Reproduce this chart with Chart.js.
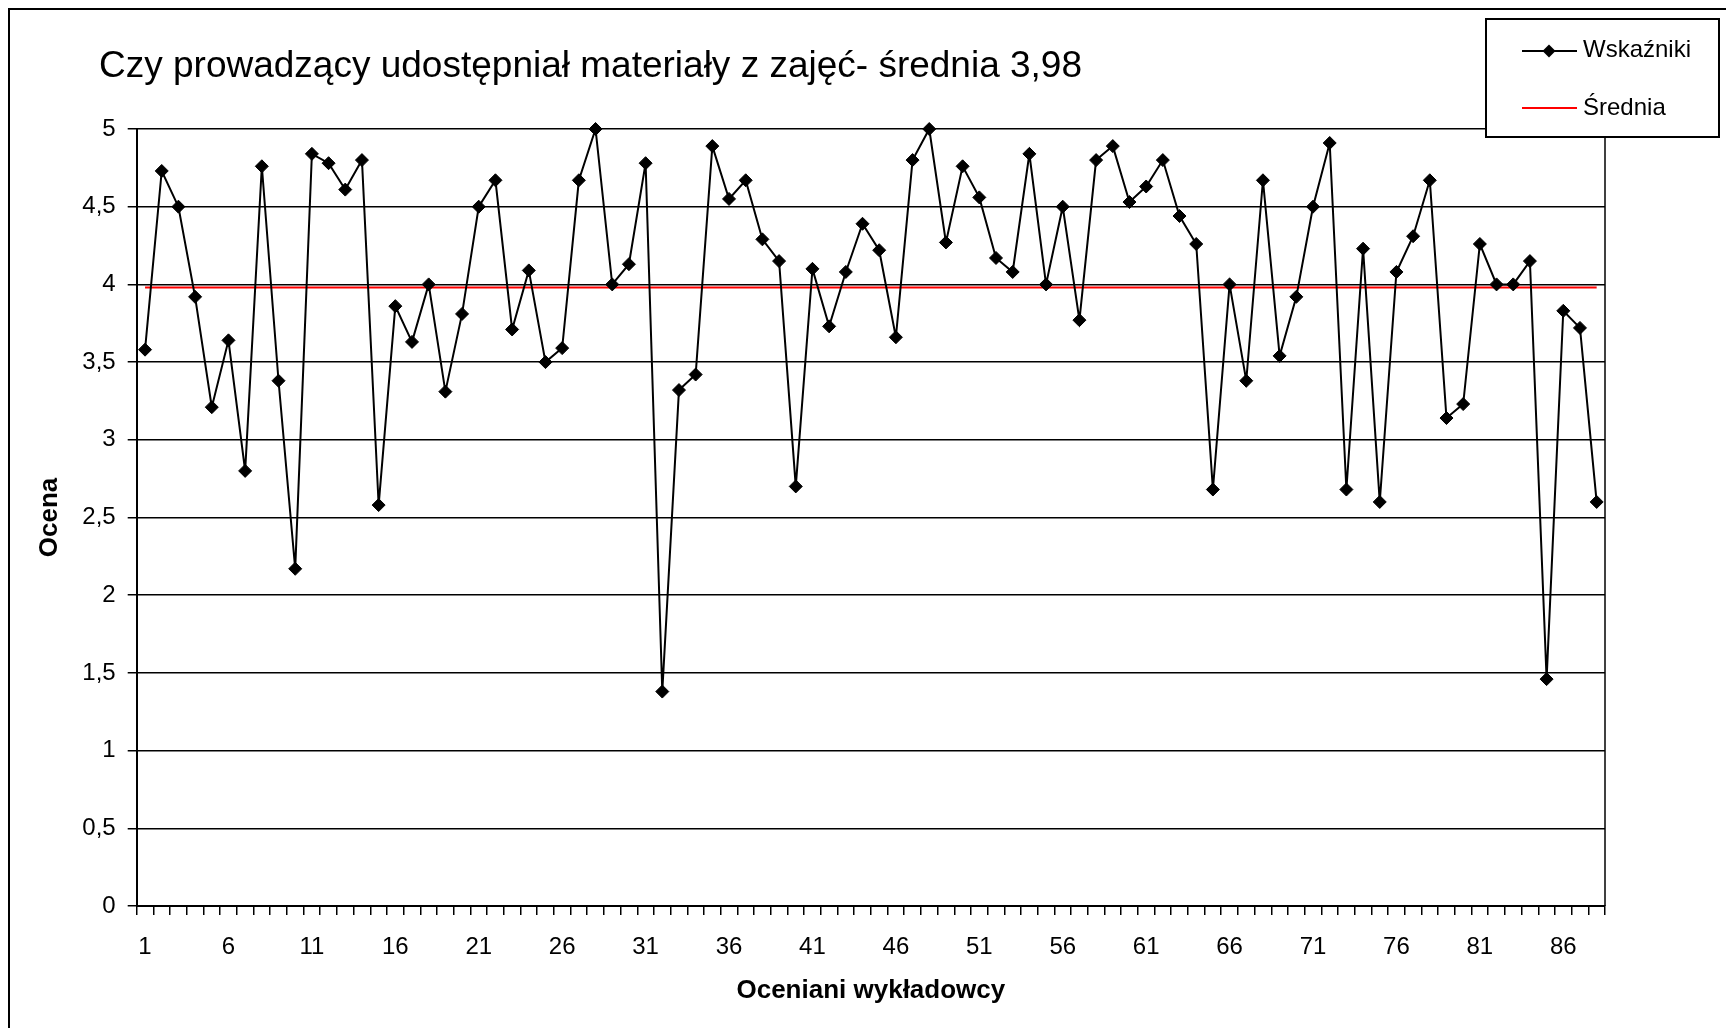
<!DOCTYPE html>
<html>
<head>
<meta charset="utf-8">
<script src="https://cdn.jsdelivr.net/npm/chart.js@4"></script>
<style>
  html, body { margin: 0; padding: 0; background: #ffffff; }
  #wrap { position: relative; width: 1726px; height: 1028px; }
</style>
</head>
<body>
<div id="wrap"><canvas id="c"></canvas></div>
<script>
// ---- data ----
const chartTitle = 'Czy prowadzący udostępniał materiały z zajęć- średnia 3,98';
const seriesName = 'Wskaźniki';
const meanName = 'Średnia';
const xTitle = 'Oceniani wykładowcy';
const yTitle = 'Ocena';
const categories = Array.from({length: 88}, (_, i) => String(i + 1));
const values = [
  3.58, 4.73, 4.50, 3.92, 3.21, 3.64, 2.80, 4.76, 3.38, 2.17,
  4.84, 4.78, 4.61, 4.80, 2.58, 3.86, 3.63, 4.00, 3.31, 3.81,
  4.50, 4.67, 3.71, 4.09, 3.50, 3.59, 4.67, 5.00, 4.00, 4.13,
  4.78, 1.38, 3.32, 3.42, 4.89, 4.55, 4.67, 4.29, 4.15, 2.70,
  4.10, 3.73, 4.08, 4.39, 4.22, 3.66, 4.80, 5.00, 4.27, 4.76,
  4.56, 4.17, 4.08, 4.84, 4.00, 4.50, 3.77, 4.80, 4.89, 4.53,
  4.63, 4.80, 4.44, 4.26, 2.68, 4.00, 3.38, 4.67, 3.54, 3.92,
  4.50, 4.91, 2.68, 4.23, 2.60, 4.08, 4.31, 4.67, 3.14, 3.23,
  4.26, 4.00, 4.00, 4.15, 1.46, 3.83, 3.72, 2.60
];
const meanValue = 3.98;
const meanPoints = [
  {x: '1', y: meanValue},
  {x: '88', y: meanValue}
];
const yMin = 0, yMax = 5, yStep = 0.5;
const labelEvery = 5;

// ---- styling ----
const FONT = '"Liberation Sans", Arial, sans-serif';

const decorPlugin = {
  id: 'decor',
  beforeDraw(chart) {
    const ctx = chart.ctx;
    ctx.save();
    ctx.fillStyle = '#ffffff';
    ctx.fillRect(0, 0, chart.width, chart.height);
    ctx.restore();
  },
  afterDraw(chart) {
    const ctx = chart.ctx;
    const a = chart.chartArea;
    ctx.save();
    // outer frame (top & left visible)
    ctx.strokeStyle = '#000';
    ctx.lineWidth = 2;
    ctx.beginPath();
    ctx.moveTo(9, chart.height + 5);
    ctx.lineTo(9, 9);
    ctx.lineTo(chart.width + 5, 9);
    ctx.stroke();
    // plot right border
    ctx.lineWidth = 1.5;
    ctx.beginPath();
    ctx.moveTo(a.right, a.top);
    ctx.lineTo(a.right, a.bottom);
    ctx.stroke();
    // title
    ctx.fillStyle = '#000';
    ctx.font = '37px ' + FONT;
    ctx.textAlign = 'left';
    ctx.textBaseline = 'alphabetic';
    ctx.fillText(chartTitle, 99, 77);
    // legend box
    const lx = 1486, ly = 19, lw = 233, lh = 118;
    ctx.fillStyle = '#fff';
    ctx.fillRect(lx, ly, lw, lh);
    ctx.strokeStyle = '#000';
    ctx.lineWidth = 2;
    ctx.strokeRect(lx, ly, lw, lh);
    const ds0 = chart.data.datasets[0];
    const ds1 = chart.data.datasets[1];
    // entry 1
    ctx.strokeStyle = ds0.borderColor;
    ctx.lineWidth = 2;
    ctx.beginPath();
    ctx.moveTo(1522, 51);
    ctx.lineTo(1577, 51);
    ctx.stroke();
    ctx.fillStyle = ds0.pointBackgroundColor;
    ctx.beginPath();
    ctx.moveTo(1549 - 6.5, 51);
    ctx.lineTo(1549, 51 - 6.5);
    ctx.lineTo(1549 + 6.5, 51);
    ctx.lineTo(1549, 51 + 6.5);
    ctx.closePath();
    ctx.fill();
    // entry 2
    ctx.strokeStyle = ds1.borderColor;
    ctx.beginPath();
    ctx.moveTo(1522, 108);
    ctx.lineTo(1577, 108);
    ctx.stroke();
    ctx.fillStyle = '#000';
    ctx.font = '24px ' + FONT;
    ctx.fillText(ds0.label, 1583, 57);
    ctx.fillText(ds1.label, 1583, 115);
    ctx.restore();
  }
};

const chart = new Chart(document.getElementById('c'), {
  type: 'line',
  data: {
    labels: categories,
    datasets: [
      {
        label: seriesName,
        data: values,
        borderColor: '#000000',
        borderWidth: 2,
        backgroundColor: '#000000',
        pointStyle: 'rectRot',
        pointRadius: 6.5,
        pointBackgroundColor: '#000000',
        pointBorderColor: '#000000',
        pointBorderWidth: 1,
        tension: 0,
        fill: false,
        clip: false
      },
      {
        label: meanName,
        data: meanPoints,
        borderColor: '#ff0000',
        borderWidth: 2,
        pointRadius: 0,
        tension: 0,
        fill: false,
        clip: false
      }
    ]
  },
  options: {
    responsive: true,
    maintainAspectRatio: false,
    animation: false,
    devicePixelRatio: 1,
    layout: { padding: { top: 129, right: 121, bottom: 0, left: 0 } },
    plugins: {
      legend: { display: false },
      title: { display: false },
      tooltip: { enabled: false }
    },
    scales: {
      x: {
        type: 'category',
        offset: true,
        grid: {
          display: true,
          drawOnChartArea: false,
          drawTicks: true,
          tickLength: 9,
          offset: true,
          color: '#000',
          lineWidth: 1.5
        },
        border: { display: true, color: '#000', width: 2 },
        ticks: {
          autoSkip: false,
          maxRotation: 0,
          minRotation: 0,
          padding: 18,
          color: '#000',
          font: { family: FONT, size: 24 },
          callback: function(v, i) { return (i % labelEvery === 0) ? this.getLabelForValue(v) : ''; }
        },
        title: {
          display: true,
          text: xTitle,
          color: '#000',
          font: { family: FONT, size: 26, weight: 'bold' },
          padding: { top: 0, bottom: 22 }
        },
        afterFit(scale) { scale.height = 122; }
      },
      y: {
        min: yMin,
        max: yMax,
        grid: {
          color: '#000',
          lineWidth: 1.5,
          drawTicks: true,
          tickLength: 9
        },
        border: { display: true, color: '#000', width: 2 },
        ticks: {
          stepSize: yStep,
          padding: 12,
          color: '#000',
          font: { family: FONT, size: 24 },
          callback: (v) => String(v).replace('.', ',')
        },
        title: {
          display: true,
          text: yTitle,
          color: '#000',
          font: { family: FONT, size: 26, weight: 'bold' },
          padding: { top: 34, bottom: 0 }
        },
        afterFit(scale) { scale.width = 136.7; }
      }
    }
  },
  plugins: [decorPlugin]
});
</script>
</body>
</html>
